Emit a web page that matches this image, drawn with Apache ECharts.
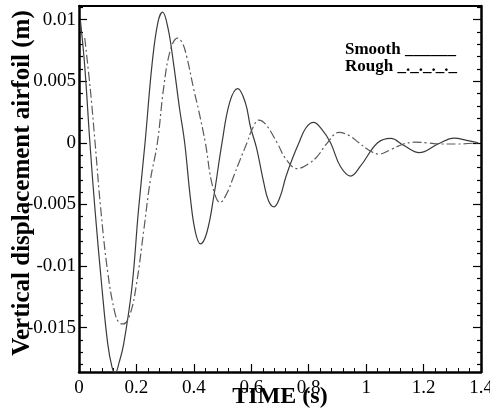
<!DOCTYPE html>
<html>
<head>
<meta charset="utf-8">
<script src="https://cdn.jsdelivr.net/npm/echarts@6/dist/echarts.min.js"></script>
<style>
  html, body { margin: 0; padding: 0; background: #fff; }
  #main { width: 490px; height: 419px; }
</style>
</head>
<body>
<div id="main"></div>
<script>
// values
const timeSmooth = [0.005, 0.02, 0.038, 0.056, 0.08, 0.1, 0.115, 0.126, 0.14, 0.155, 0.184, 0.207, 0.23, 0.255, 0.275, 0.291,
    0.31, 0.33, 0.35, 0.368, 0.388, 0.405, 0.423, 0.445, 0.469, 0.498, 0.525, 0.553, 0.58, 0.597, 0.618, 0.644, 0.66,
    0.679, 0.7, 0.72, 0.743, 0.766, 0.79, 0.817, 0.845, 0.876, 0.91, 0.946, 0.98, 1.04, 1.086, 1.13, 1.185, 1.25,
    1.307, 1.35, 1.39];
const dispSmooth = [0.0099, 0.0062, 0.0, -0.0055, -0.0118, -0.0163, -0.0182, -0.0187, -0.0178, -0.0164, -0.0118, -0.0055,
    0.0, 0.0065, 0.0098, 0.0106, 0.0093, 0.0063, 0.0028, 0.0, -0.0045, -0.0072, -0.0082, -0.0073, -0.0044, 0.0, 0.0033,
    0.0044, 0.0032, 0.0013, -0.0004, -0.0033, -0.0047, -0.0052, -0.0044, -0.0028, -0.0013, 0.0, 0.0012, 0.00165,
    0.0011, 0.0, -0.0019, -0.0027, -0.0019, 0.0, 0.00036, -0.0002, -0.0008, -0.0001, 0.00038, 0.0002, 0.0];

const timeRough = [0.02, 0.04, 0.056, 0.075, 0.1, 0.125, 0.14, 0.155, 0.178, 0.2, 0.225, 0.248, 0.273, 0.295, 0.318, 0.343,
    0.36, 0.376, 0.4, 0.417, 0.44, 0.465, 0.492, 0.515, 0.539, 0.559, 0.585, 0.605, 0.626, 0.65, 0.69, 0.72, 0.76, 0.8,
    0.83, 0.865, 0.905, 0.94, 0.975, 1.01, 1.045, 1.09, 1.13, 1.17, 1.21, 1.26, 1.32, 1.39];
const dispRough = [0.0085, 0.0042, 0.0, -0.0052, -0.0105, -0.0138, -0.0146, -0.0147, -0.0139, -0.0115, -0.0072, -0.0031,
    0.0, 0.0045, 0.0075, 0.0085, 0.0081, 0.0069, 0.0043, 0.0026, 0.0, -0.0035, -0.00485, -0.0041, -0.0027, -0.0015, 0.0,
    0.0012, 0.00184, 0.0015, 0.0, -0.0013, -0.0021, -0.0017, -0.0011, 0.0, 0.00084, 0.0006, 0.0, -0.0006, -0.00092,
    -0.0005, -0.0001, 0.00005, 0.0, -0.0001, -0.0001, 0.0];

const yMajorTicks = [-0.015, -0.01, -0.005, 0, 0.005, 0.01];
const yMinorTicks = [];
for (let i = -18; i <= 11; i++) {
    if (i % 5 !== 0) yMinorTicks.push(i / 1000);
}

const Y_MIN = -0.0186, Y_MAX = 0.0111;
const FONT = '"Liberation Serif", "Times New Roman", serif';

function pairs(xs, ys) {
    return xs.map((x, i) => [x, ys[i]]);
}

function yAxisOf(pos, ticks, len, withLine, withLabel) {
    return {
        type: 'value',
        position: pos,
        min: Y_MIN,
        max: Y_MAX,
        splitLine: { show: false },
        axisLine: { show: withLine, lineStyle: { color: '#000', width: 2.5 } },
        axisTick: { show: true, inside: true, length: len, customValues: ticks, lineStyle: { color: '#000', width: 1.2 } },
        axisLabel: withLabel
            ? { show: true, customValues: yMajorTicks, margin: 3, color: '#000', fontFamily: FONT, fontSize: 19 }
            : { show: false }
    };
}

const chart = echarts.init(document.getElementById('main'));
const leftAxis = yAxisOf('left', yMajorTicks, 8, true, true);
leftAxis.name = 'Vertical displacement airfoil (m)';
leftAxis.nameLocation = 'middle';
leftAxis.nameGap = 44;
leftAxis.nameMoveOverlap = false;
leftAxis.nameTextStyle = { color: '#000', fontFamily: FONT, fontSize: 25, fontWeight: 'bold', padding: [0, 0, 0, 12] };

chart.setOption({
    backgroundColor: '#fff',
    animation: false,
    grid: { left: 79, right: 9, top: 6, bottom: 47, outerBoundsMode: 'none', containLabel: false },
    xAxis: [
        {
            type: 'value',
            position: 'bottom',
            min: 0,
            max: 1.4,
            interval: 0.2,
            splitLine: { show: false },
            axisLine: { onZero: false, lineStyle: { color: '#000', width: 2.5 } },
            axisTick: { inside: true, length: 8, lineStyle: { color: '#000', width: 1.2 } },
            minorTick: { show: true, splitNumber: 5, length: 4, lineStyle: { color: '#000', width: 1 } },
            axisLabel: { margin: 7, color: '#000', fontFamily: FONT, fontSize: 19 },
            name: 'TIME (s)',
            nameLocation: 'middle',
            nameGap: 13,
            nameMoveOverlap: false,
            nameTextStyle: { color: '#000', fontFamily: FONT, fontSize: 24, fontWeight: 'bold' }
        },
        {
            type: 'value',
            position: 'top',
            min: 0,
            max: 1.4,
            splitLine: { show: false },
            axisLine: { onZero: false, lineStyle: { color: '#000', width: 2 } },
            axisTick: { show: false },
            axisLabel: { show: false }
        }
    ],
    yAxis: [
        leftAxis,
        yAxisOf('left', yMinorTicks, 4, false, false),
        yAxisOf('right', yMajorTicks, 8, true, false),
        yAxisOf('right', yMinorTicks, 4, false, false)
    ],
    graphic: [
        { type: 'text', left: 345, top: 41, style: { text: 'Smooth ______', font: 'bold 17px ' + FONT, fill: '#000' } },
        { type: 'text', left: 345, top: 58, style: { text: 'Rough _._._._._', font: 'bold 17px ' + FONT, fill: '#000' } }
    ],
    series: [
        {
            name: 'Smooth',
            type: 'line',
            smooth: 0.4,
            symbol: 'none',
            data: pairs(timeSmooth, dispSmooth),
            lineStyle: { color: '#3a3a3a', width: 1.2 }
        },
        {
            name: 'Rough',
            type: 'line',
            smooth: 0.4,
            symbol: 'none',
            data: pairs(timeRough, dispRough),
            lineStyle: { color: '#5a5a5a', width: 1.2, type: [9, 3, 2, 3] }
        }
    ]
});
</script>
</body>
</html>
